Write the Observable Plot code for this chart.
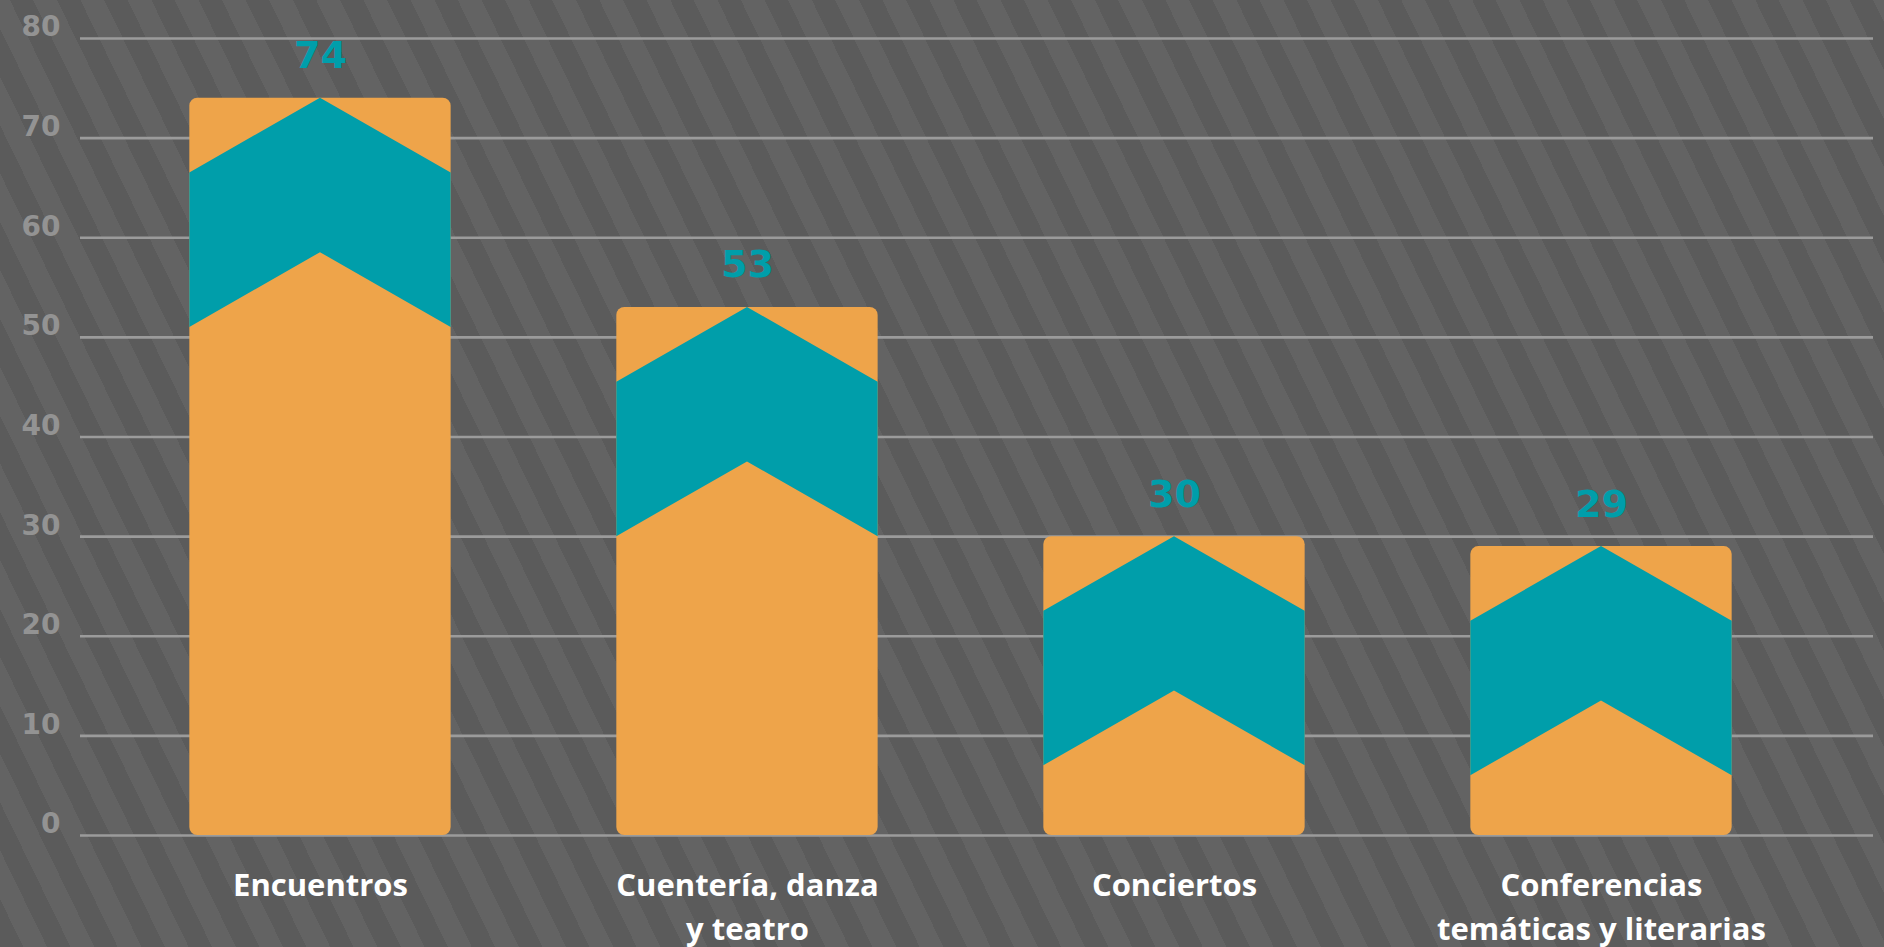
<!DOCTYPE html>
<html>
<head>
<meta charset="utf-8">
<script src="https://cdn.jsdelivr.net/npm/d3@7"></script>
<script src="https://cdn.jsdelivr.net/npm/@observablehq/plot@0.6"></script>
<style>
  html, body { margin: 0; padding: 0; overflow: hidden; }
  body {
    width: 1884px; height: 947px;
    background: repeating-linear-gradient(64deg, #5b5b5b 0px, #5b5b5b 21px, #636363 21px, #636363 42.4px);
  }
  #chart svg { display: block; }
  #chart svg text { font-variant-ligatures: none; }
</style>
</head>
<body>
<div id="chart"></div>
<script>
// ---- data ----
const categories = ["Encuentros", "Cuentería, danza y teatro", "Conciertos", "Conferencias temáticas y literarias"];
const categoryLabels = ["Encuentros", "Cuentería, danza\ny teatro", "Conciertos", "Conferencias\ntemáticas y literarias"];
const values = [74, 53, 30, 29];
const yTicks = [0, 10, 20, 30, 40, 50, 60, 70, 80];

// ---- style ----
const ORANGE = "#eea44a";
const TEAL = "#009eaa";
const halfWidth = 0.306;   // bar half width in category units
const chevronDrop = 7.5;   // chevron slope drop (y units)
const chevronBand = 15.5;  // chevron band thickness (y units)

const idx = categories.map((_, i) => i);
const bars = idx.map(i => ({i, x1: i - halfWidth, x2: i + halfWidth, v: values[i]}));
const chevron = idx.flatMap(i => {
  const v = values[i];
  return [
    {i, x: i - halfWidth, top: v - chevronDrop, bottom: v - chevronDrop - chevronBand},
    {i, x: i,             top: v,               bottom: v - chevronBand},
    {i, x: i + halfWidth, top: v - chevronDrop, bottom: v - chevronDrop - chevronBand}
  ];
});

const chart = Plot.plot({
  width: 1884,
  height: 947,
  marginLeft: 80,
  marginRight: 11,
  marginTop: 38,
  marginBottom: 112,
  style: {background: "transparent", overflow: "visible"},
  x: {domain: [-0.562, 3.637], axis: null},
  y: {domain: [0, 80], axis: null},
  marks: [
    Plot.ruleY(yTicks, {stroke: "#9b9b9b", strokeWidth: 2.7}),
    Plot.text(yTicks, {
      y: d => d, frameAnchor: "left", textAnchor: "end", dx: -20, dy: -11,
      text: d => String(d), fill: "#939393", fontSize: 28, fontWeight: "bold",
      fontFamily: "DejaVu Sans"
    }),
    Plot.rect(bars, {x1: "x1", x2: "x2", y1: 0, y2: "v", fill: ORANGE, rx: 8}),
    Plot.areaY(chevron, {x: "x", y1: "bottom", y2: "top", z: "i", fill: TEAL}),
    Plot.text(bars, {
      x: "i", y: "v", text: d => String(d.v), dy: -30, lineAnchor: "bottom",
      fill: TEAL, fontSize: 38, fontWeight: "bold", fontFamily: "DejaVu Sans"
    }),
    Plot.text(idx, {
      x: d => d, frameAnchor: "bottom", text: d => categoryLabels[d],
      dy: 30, lineAnchor: "top", lineHeight: 1.4,
      fill: "white", fontSize: 31, fontWeight: "bold", fontFamily: "Open Sans"
    })
  ]
});
document.getElementById("chart").appendChild(chart);
</script>
</body>
</html>
